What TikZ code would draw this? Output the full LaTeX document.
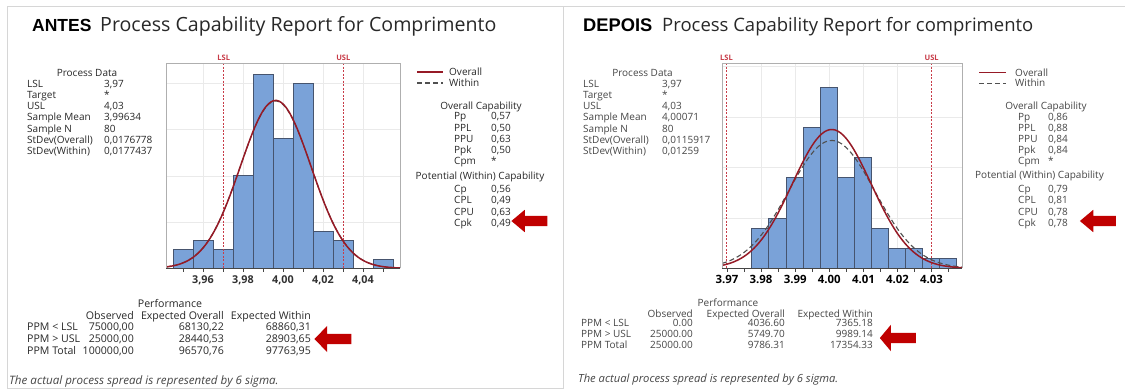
\documentclass[tikz,border=0pt]{standalone}
\usepackage{fontspec}
\setmainfont{Open Sans}
\newfontfamily\headfont{Liberation Sans}
\usetikzlibrary{shapes.arrows}

\definecolor{barfill}{RGB}{122,162,216}
\definecolor{barline}{RGB}{70,84,110}
\definecolor{fitred}{RGB}{150,26,38}
\definecolor{winc}{RGB}{80,80,80}
\definecolor{specred}{RGB}{200,60,72}
\definecolor{markred}{RGB}{192,0,0}
\definecolor{ink}{RGB}{40,40,40}
\definecolor{inkb}{RGB}{70,70,70}
\definecolor{panelc}{RGB}{214,214,214}
\definecolor{gridc}{RGB}{234,234,234}
\definecolor{framec}{RGB}{175,175,175}
\definecolor{axisc}{RGB}{70,70,70}
\definecolor{tickc}{RGB}{50,50,50}

\newcommand{\sm}{\fontsize{10}{11}\selectfont}
\newcommand{\smb}{\fontsize{10.6}{12}\selectfont}
\newcommand{\speclabfont}{\fontsize{7.5}{8}\selectfont\bfseries}
\newcommand{\ticklfont}{\fontsize{10.8}{12}\selectfont\bfseries}
\newcommand{\tickrfont}{\fontsize{11.4}{12}\selectfont\bfseries}
\newcommand{\footfont}{\fontsize{11.2}{12}\selectfont\itshape}

\begin{document}
\begin{tikzpicture}[x=1pt,y=-1pt,
  txt/.style={inner sep=0pt, font=\sm, text=ink},
  lab/.style={txt, anchor=base west},
  num/.style={txt, anchor=base east},
  mid/.style={txt, anchor=base},
  bar/.style={fill=barfill, draw=barline, line width=0.7pt},
  fitall/.style={draw=fitred, line width=1.5pt},
  fitwin/.style={draw=winc, line width=1.1pt, dash pattern=on 5pt off 3pt},
  spec/.style={draw=specred, line width=0.8pt, dash pattern=on 2pt off 1.5pt},
  speclab/.style={inner sep=0pt, font=\speclabfont, text=specred, anchor=base},
  gridline/.style={draw=gridc, line width=0.5pt},
  plotframe/.style={draw=framec, line width=0.8pt},
  axisline/.style={draw=axisc, line width=1pt},
  tickmark/.style={draw=axisc, line width=0.6pt},
  ticklab/.style={inner sep=0pt, anchor=base, text=tickc},
  callout/.style={single arrow, fill=markred, draw=none, inner xsep=0pt,
    inner ysep=5pt, shape border rotate=180, single arrow tip angle=80,
    single arrow head extend=6pt},
  foot/.style={inner sep=0pt, anchor=base west, font=\footfont, text=inkb},
]
\useasboundingbox (0,0) rectangle (1125,389);
\fill[white] (0,0) rectangle (1125,389);

% panel outlines
\draw[panelc, line width=0.8pt] (7,389) -- (7,6) -- (1125,6);
\draw[panelc, line width=0.8pt] (563,6) -- (563,389);
\draw[panelc, line width=0.8pt] (7,388.5) -- (563,388.5);

% ================= left report =================
\node[inner sep=0pt, anchor=base west, font=\headfont\fontsize{17.5}{20}\selectfont\bfseries]
  (titleL) at (32,31.7) {ANTES};
\node[inner sep=0pt, anchor=base west, font=\fontsize{19.6}{22}\selectfont, text=ink]
  (subL) at (100,31.7) {Process Capability Report for Comprimento};

\node[mid] (pdL) at (87,76.5) {Process Data};
\foreach \a/\b [count=\i from 0] in {LSL/{3,97}, Target/*, USL/{4,03},
    Sample Mean/{3,99634}, Sample N/80, StDev(Overall)/{0,0176778},
    StDev(Within)/{0,0177437}} {
  \node[lab] (pdLa\i) at (27,{87+11.25*\i}) {\a};
  \node[lab] (pdLb\i) at (104,{87+11.25*\i}) {\b};
}

% histogram
\fill[white] (166,63) rectangle (400,268.3);
\foreach \y in {83.3,129.55,175.8,222.05} \draw[gridline] (166,\y) -- (400,\y);
\foreach \x in {203,243,283,323,363} \draw[gridline] (\x,63) -- (\x,268.3);
\foreach \c [count=\i from 0] in {2,3,2,10,21,14,20,4,3,0,1} {
  \ifnum\c>0
    \draw[bar] ({173.3+20*\i},268.3) rectangle ({193.3+20*\i},{268.3-9.25*\c});
  \fi
}
\draw[spec] (223.7,63) -- (223.7,268.3);
\draw[spec] (343.3,63) -- (343.3,268.3);
\node[speclab] (lslL) at (223.7,60) {LSL};
\node[speclab] (uslL) at (343.3,60) {USL};
\begin{scope}
  \clip (166,60) rectangle (400,268.3);
  \draw[fitwin] plot[smooth, samples=90, domain=166:400]
    (\x,{268.3-167.3*exp(-0.5*pow((\x-275.68)/35.49,2))});
  \draw[fitall] plot[smooth, samples=90, domain=166:400]
    (\x,{268.3-167.9*exp(-0.5*pow((\x-275.68)/35.36,2))});
\end{scope}
\draw[plotframe] (166,268.3) -- (166,63) -- (400,63) -- (400,268.3);
\draw[axisline] (166,268.3) -- (400,268.3);
\foreach \x in {183,203,...,393} \draw[tickmark] (\x,268.3) -- (\x,271.8);
\foreach \t [count=\i from 0] in {{3,96},{3,98},{4,00},{4,02},{4,04}}
  \node[ticklab, font=\ticklfont] (tkL\i) at ({203+40*\i},283) {\t};

% legend and capability
\draw[fitall, line width=1.2pt] (417,72) -- (443,72);
\draw[fitwin] (417,83) -- (443,83);
\node[lab] (lgLa) at (449,75.5) {Overall};
\node[lab] (lgLb) at (449,86.5) {Within};
\node[mid] (ocL) at (481,109.5) {Overall Capability};
\foreach \a/\b [count=\i from 0] in {Pp/{0,57}, PPL/{0,50}, PPU/{0,63},
    Ppk/{0,50}, Cpm/*} {
  \node[lab] (ocLa\i) at (454,{119.8+11.2*\i}) {\a};
  \node[lab] (ocLb\i) at (491,{119.8+11.2*\i}) {\b};
}
\node[mid] (wcL) at (480,179.5) {Potential (Within) Capability};
\foreach \a/\b [count=\i from 0] in {Cp/{0,56}, CPL/{0,49}, CPU/{0,63},
    Cpk/{0,49}} {
  \node[lab] (wcLa\i) at (454,{192.5+11.25*\i}) {\a};
  \node[lab] (wcLb\i) at (491,{192.5+11.25*\i}) {\b};
}
\node[callout, minimum height=36pt] (arrL1) at (532.5,221) {};

% performance table
\node[mid, font=\smb] (pfL) at (170,307.5) {Performance};
\node[num, font=\smb] (pfLh1) at (134,319.2) {Observed};
\node[num, font=\smb] (pfLh2) at (224,319.2) {Expected Overall};
\node[num, font=\smb] (pfLh3) at (311,319.2) {Expected Within};
\foreach \a/\b/\c/\d [count=\i from 0] in {
    PPM < LSL/{75000,00}/{68130,22}/{68860,31},
    PPM > USL/{25000,00}/{28440,53}/{28903,65},
    PPM Total/{100000,00}/{96570,76}/{97763,95}} {
  \node[lab, font=\smb] (pfLa\i) at (27,{330+12*\i}) {\a};
  \node[num, font=\smb] (pfLb\i) at (134,{330+12*\i}) {\b};
  \node[num, font=\smb] (pfLc\i) at (224,{330+12*\i}) {\c};
  \node[num, font=\smb] (pfLd\i) at (311,{330+12*\i}) {\d};
}
\node[callout, minimum height=37pt, single arrow head extend=8pt, single arrow tip angle=92]
  (arrL2) at (335.5,339) {};
\node[foot, font=\fontsize{11.6}{12}\selectfont\itshape] (ftL) at (9,384.5)
  {The actual process spread is represented by 6 sigma.};

% ================= right report =================
\node[inner sep=0pt, anchor=base west, font=\headfont\fontsize{18.3}{20}\selectfont\bfseries]
  (titleR) at (583,31.7) {DEPOIS};
\node[inner sep=0pt, anchor=base west, font=\fontsize{18.5}{22}\selectfont, text=ink]
  (subR) at (662,31.7) {Process Capability Report for comprimento};

\node[mid, text=inkb] (pdR) at (642.5,76.5) {Process Data};
\foreach \a/\b [count=\i from 0] in {LSL/{3,97}, Target/*, USL/{4,03},
    Sample Mean/{4,00071}, Sample N/80, StDev(Overall)/{0,0115917},
    StDev(Within)/{0,01259}} {
  \node[lab, text=inkb] (pdRa\i) at (583,{87+11.25*\i}) {\a};
  \node[lab, text=inkb] (pdRb\i) at (662,{87+11.25*\i}) {\b};
}

% histogram
\fill[white] (722,63) rectangle (962,268.3);
\foreach \y in {66.7,117.1,167.5,217.9} \draw[gridline] (722,\y) -- (962,\y);
\foreach \x in {761.1,795.2,829.3,863.4,897.5} \draw[gridline] (\x,63) -- (\x,268.3);
\foreach \c [count=\i from 0] in {4,5,9,14,18,9,11,4,2,2,1,1} {
  \draw[bar] ({751.7+17.08*\i},268.3) rectangle ({768.78+17.08*\i},{268.3-10.08*\c});
}
\draw[spec] (726.5,63) -- (726.5,268.3);
\draw[spec] (931.6,63) -- (931.6,268.3);
\node[speclab] (lslR) at (726.5,60) {LSL};
\node[speclab] (uslR) at (931.6,60) {USL};
\begin{scope}
  \clip (722,60) rectangle (962,268.3);
  \draw[fitwin] plot[smooth, samples=90, domain=722:962]
    (\x,{268.3-127.8*exp(-0.5*pow((\x-831.72)/42.93,2))});
  \draw[fitall] plot[smooth, samples=90, domain=722:962]
    (\x,{268.3-138.8*exp(-0.5*pow((\x-831.72)/39.53,2))});
\end{scope}
\draw[plotframe] (722,268.3) -- (722,63) -- (962,63) -- (962,268.3);
\draw[axisline] (722,268.3) -- (962,268.3);
\foreach \i in {0,...,13} \draw[tickmark] ({727.0+17.05*\i},268.3) -- ({727.0+17.05*\i},271.8);
\foreach \t [count=\i from 0] in {3.97,3.98,3.99,4.00,4.01,4.02,4.03}
  \node[ticklab, font=\tickrfont, text=black] (tkR\i) at ({727.0+34.1*\i},283.5) {\t};

% legend and capability
\draw[fitall, line width=1.2pt] (979,72.7) -- (1006,72.7);
\draw[fitwin] (979,83.3) -- (1006,83.3);
\node[lab, text=inkb] (lgRa) at (1015,76.2) {Overall};
\node[lab, text=inkb] (lgRb) at (1015,86.8) {Within};
\node[mid, text=inkb] (ocR) at (1046,109.5) {Overall Capability};
\foreach \a/\b [count=\i from 0] in {Pp/{0,86}, PPL/{0,88}, PPU/{0,84},
    Ppk/{0,84}, Cpm/*} {
  \node[lab, text=inkb] (ocRa\i) at (1018,{120.2+11.1*\i}) {\a};
  \node[lab, text=inkb] (ocRb\i) at (1048,{120.2+11.1*\i}) {\b};
}
\node[mid, text=inkb] (wcR) at (1039.5,178.8) {Potential (Within) Capability};
\foreach \a/\b [count=\i from 0] in {Cp/{0,79}, CPL/{0,81}, CPU/{0,78},
    Cpk/{0,78}} {
  \node[lab, text=inkb] (wcRa\i) at (1018,{192.5+11.25*\i}) {\a};
  \node[lab, text=inkb] (wcRb\i) at (1048,{192.5+11.25*\i}) {\b};
}
\node[callout, minimum height=36pt] (arrR1) at (1101,221) {};

% performance table
\node[mid, text=inkb] (pfR) at (728,306.5) {Performance};
\node[num, text=inkb] (pfRh1) at (693,317.5) {Observed};
\node[num, text=inkb] (pfRh2) at (785,317.5) {Expected Overall};
\node[num, text=inkb] (pfRh3) at (873,317.5) {Expected Within};
\foreach \a/\b/\c/\d [count=\i from 0] in {
    PPM < LSL/0.00/4036.60/7365.18,
    PPM > USL/25000.00/5749.70/9989.14,
    PPM Total/25000.00/9786.31/17354.33} {
  \node[lab, text=inkb] (pfRa\i) at (581,{326.8+11*\i}) {\a};
  \node[num, text=inkb] (pfRb\i) at (693,{326.8+11*\i}) {\b};
  \node[num, text=inkb] (pfRc\i) at (785,{326.8+11*\i}) {\c};
  \node[num, text=inkb] (pfRd\i) at (873,{326.8+11*\i}) {\d};
}
\node[callout, minimum height=36pt, single arrow head extend=8pt, single arrow tip angle=100]
  (arrR2) at (900,338) {};
\node[foot] (ftR) at (578,382.5) {The actual process spread is represented by 6 sigma.};

\end{tikzpicture}
\end{document}
